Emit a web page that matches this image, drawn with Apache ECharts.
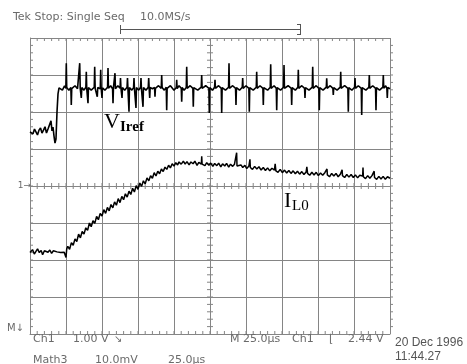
<!DOCTYPE html>
<html>
<head>
<meta charset="utf-8">
<script src="https://cdn.jsdelivr.net/npm/echarts@6/dist/echarts.min.js"></script>
<style>
html,body{margin:0;padding:0;background:#fff;}
#c{width:467px;height:364px;}
</style>
</head>
<body>
<div id="c"></div>
<script>
// Axes in scope divisions: x -5..5 (25.0 us/div), y -4..4
var xDivs = [-5, 5];
var yDivs = [-4, 4];
var minorStep = 0.2; // graticule minor tick spacing (divisions)

// V_Iref trace [x div, y div]
var vIrefPre = [[-5.000,1.46],[-4.958,1.51],[-4.917,1.41],[-4.875,1.54],[-4.833,1.49],[-4.792,1.38],[-4.750,1.51],[-4.708,1.57],[-4.667,1.43],[-4.625,1.51],[-4.583,1.60],[-4.542,1.43],[-4.500,1.54],[-4.458,1.49],[-4.417,1.76],[-4.389,1.49],[-4.361,1.59],[-4.333,1.35],[-4.306,1.16],[-4.278,1.27],[-4.250,2.00],[-4.222,2.49],[-4.194,2.65]];
var vIrefPost = [[-4.10,2.59],[-4.04,2.71],[-4.004,2.64],[-3.992,3.32],[-3.980,2.66],[-3.92,2.59],[-3.865,2.66],[-3.853,2.19],[-3.841,2.63],[-3.75,2.71],[-3.68,2.63],[-3.631,2.65],[-3.619,3.32],[-3.605,2.64],[-3.575,2.38],[-3.56,2.66],[-3.50,2.59],[-3.448,2.67],[-3.436,3.09],[-3.424,2.64],[-3.389,2.24],[-3.377,2.66],[-3.30,2.59],[-3.215,2.67],[-3.203,3.22],[-3.19,2.64],[-3.131,2.41],[-3.118,2.66],[-3.048,2.63],[-3.036,3.14],[-3.024,2.66],[-3.000,2.38],[-2.988,2.65],[-2.92,2.59],[-2.845,2.67],[-2.833,3.19],[-2.821,2.64],[-2.76,2.71],[-2.706,2.63],[-2.694,2.24],[-2.682,2.66],[-2.651,2.65],[-2.639,3.05],[-2.627,2.63],[-2.56,2.71],[-2.498,2.64],[-2.486,2.92],[-2.474,2.65],[-2.444,2.38],[-2.432,2.66],[-2.37,2.59],[-2.304,2.67],[-2.292,2.92],[-2.280,2.64],[-2.250,2.01],[-2.238,2.66],[-2.17,2.59],[-2.123,2.66],[-2.111,2.92],[-2.099,2.64],[-2.056,2.11],[-2.044,2.66],[-1.98,2.59],[-1.929,2.67],[-1.917,2.92],[-1.905,2.64],[-1.861,2.14],[-1.849,2.66],[-1.78,2.59],[-1.715,2.67],[-1.703,2.92],[-1.690,2.64],[-1.675,2.38],[-1.662,2.66],[-1.60,2.63],[-1.540,2.66],[-1.528,2.41],[-1.516,2.64],[-1.43,2.71],[-1.354,2.64],[-1.342,3.00],[-1.330,2.66],[-1.27,2.59],[-1.215,2.67],[-1.203,2.05],[-1.191,2.64],[-1.10,2.71],[-1.00,2.59],[-0.937,2.66],[-0.925,2.87],[-0.913,2.63],[-0.86,2.71],[-0.798,2.64],[-0.786,2.28],[-0.774,2.66],[-0.72,2.59],[-0.659,2.66],[-0.647,3.22],[-0.635,2.64],[-0.55,2.71],[-0.476,2.64],[-0.464,2.14],[-0.452,2.66],[-0.34,2.59],[-0.243,2.67],[-0.231,3.00],[-0.219,2.64],[-0.12,2.71],[-0.031,2.64],[-0.019,1.97],[-0.007,2.66],[0.07,2.59],[0.127,2.67],[0.139,2.87],[0.151,2.64],[0.24,2.71],[0.313,2.64],[0.325,1.97],[0.337,2.66],[0.43,2.59],[0.516,2.67],[0.528,3.32],[0.540,2.64],[0.63,2.71],[0.710,2.64],[0.722,2.19],[0.734,2.66],[0.82,2.59],[0.896,2.67],[0.908,2.92],[0.920,2.64],[1.00,2.71],[1.080,2.64],[1.092,2.01],[1.104,2.66],[1.20,2.59],[1.285,2.67],[1.297,3.09],[1.309,2.64],[1.39,2.71],[1.469,2.64],[1.481,2.19],[1.493,2.66],[1.60,2.59],[1.674,2.67],[1.686,3.29],[1.698,2.64],[1.78,2.71],[1.841,2.64],[1.853,2.05],[1.865,2.66],[1.96,2.59],[2.044,2.67],[2.056,3.27],[2.068,2.64],[2.17,2.71],[2.257,2.64],[2.269,2.19],[2.281,2.66],[2.37,2.59],[2.441,2.67],[2.453,3.14],[2.465,2.64],[2.55,2.71],[2.627,2.64],[2.639,2.38],[2.651,2.66],[2.75,2.59],[2.841,2.67],[2.853,3.22],[2.865,2.64],[2.95,2.71],[3.024,2.64],[3.036,2.05],[3.048,2.66],[3.14,2.59],[3.230,2.67],[3.242,2.91],[3.254,2.64],[3.34,2.71],[3.413,2.64],[3.425,2.46],[3.437,2.66],[3.53,2.59],[3.619,2.67],[3.631,3.09],[3.643,2.64],[3.74,2.71],[3.830,2.64],[3.842,2.01],[3.854,2.66],[3.94,2.59],[4.016,2.67],[4.028,2.92],[4.040,2.64],[4.12,2.71],[4.202,2.64],[4.214,1.92],[4.226,2.66],[4.33,2.59],[4.413,2.67],[4.425,3.00],[4.437,2.64],[4.52,2.71],[4.599,2.64],[4.611,2.05],[4.623,2.66],[4.71,2.59],[4.802,2.67],[4.814,3.00],[4.826,2.64],[4.88,2.71],[4.913,2.64],[4.925,2.38],[4.937,2.66],[5.000,2.63]];

// I_L0 trace [x div, y div]
var iL0Flat = [[-5.00,-1.80],[-4.93,-1.72],[-4.88,-1.84],[-4.83,-1.76],[-4.79,-1.70],[-4.74,-1.80],[-4.69,-1.74],[-4.65,-1.86],[-4.60,-1.75],[-4.55,-1.70],[-4.50,-1.79],[-4.45,-1.73],[-4.40,-1.82],[-4.35,-1.75],[-4.30,-1.70],[-4.25,-1.78],[-4.20,-1.74],[-4.15,-1.80],[-4.10,-1.76],[-4.05,-1.79],[-4.02,-1.74],[-4.00,-1.93],[-3.98,-1.70]];
var iL0Ramp = [[-3.95,-1.63],[-3.90,-1.71],[-3.85,-1.53],[-3.80,-1.60],[-3.75,-1.43],[-3.70,-1.50],[-3.65,-1.30],[-3.60,-1.40],[-3.55,-1.23],[-3.50,-1.30],[-3.45,-1.13],[-3.40,-1.20],[-3.35,-1.00],[-3.30,-1.10],[-3.25,-0.94],[-3.20,-1.01],[-3.15,-0.82],[-3.10,-0.91],[-3.05,-0.74],[-3.00,-0.81],[-2.95,-0.64],[-2.90,-0.74],[-2.85,-0.58],[-2.80,-0.67],[-2.75,-0.50],[-2.70,-0.59],[-2.65,-0.43],[-2.60,-0.52],[-2.55,-0.34],[-2.50,-0.45],[-2.45,-0.28],[-2.40,-0.37],[-2.35,-0.21],[-2.30,-0.30],[-2.25,-0.14],[-2.20,-0.23],[-2.15,-0.06],[-2.10,-0.16],[-2.05,0.01],[-2.00,-0.09],[-1.95,0.08],[-1.90,-0.01],[-1.85,0.14],[-1.80,0.06],[-1.75,0.22],[-1.70,0.14],[-1.65,0.28],[-1.60,0.21],[-1.55,0.36],[-1.50,0.27],[-1.45,0.40],[-1.40,0.33],[-1.35,0.46],[-1.30,0.39],[-1.25,0.51],[-1.20,0.45],[-1.15,0.56],[-1.10,0.49],[-1.05,0.60],[-1.00,0.54],[-0.95,0.63],[-0.90,0.57]];
var iL0Decay = [[-0.86,0.65],[-0.80,0.59],[-0.74,0.67],[-0.69,0.59],[-0.64,0.66],[-0.58,0.57],[-0.53,0.65],[-0.47,0.60],[-0.42,0.67],[-0.36,0.56],[-0.31,0.64],[-0.24,0.59],[-0.23,0.80],[-0.22,0.59],[-0.14,0.55],[-0.09,0.63],[-0.03,0.56],[0.02,0.62],[0.08,0.53],[0.13,0.61],[0.19,0.55],[0.24,0.62],[0.30,0.52],[0.35,0.60],[0.41,0.54],[0.46,0.61],[0.52,0.51],[0.57,0.59],[0.63,0.53],[0.68,0.59],[0.73,0.54],[0.74,0.90],[0.75,0.54],[0.80,0.49],[0.86,0.57],[0.91,0.50],[0.97,0.56],[1.02,0.47],[1.08,0.54],[1.10,0.52],[1.11,0.72],[1.12,0.50],[1.18,0.45],[1.24,0.53],[1.30,0.46],[1.36,0.52],[1.42,0.43],[1.48,0.50],[1.54,0.42],[1.60,0.49],[1.66,0.41],[1.72,0.48],[1.79,0.43],[1.81,0.60],[1.83,0.41],[1.89,0.37],[1.95,0.45],[2.01,0.36],[2.07,0.43],[2.13,0.35],[2.19,0.42],[2.25,0.34],[2.31,0.41],[2.37,0.33],[2.43,0.40],[2.49,0.32],[2.55,0.39],[2.61,0.31],[2.67,0.38],[2.69,0.52],[2.71,0.34],[2.77,0.29],[2.83,0.37],[2.89,0.30],[2.95,0.37],[3.01,0.28],[3.07,0.35],[3.13,0.29],[3.19,0.36],[3.24,0.33],[3.25,0.46],[3.26,0.30],[3.32,0.25],[3.38,0.34],[3.44,0.27],[3.50,0.34],[3.56,0.25],[3.62,0.32],[3.66,0.30],[3.67,0.44],[3.68,0.28],[3.74,0.23],[3.80,0.31],[3.86,0.24],[3.92,0.31],[3.98,0.23],[4.04,0.30],[4.10,0.22],[4.16,0.29],[4.24,0.27],[4.25,0.50],[4.26,0.25],[4.32,0.20],[4.38,0.28],[4.44,0.21],[4.50,0.28],[4.55,0.25],[4.56,0.40],[4.57,0.23],[4.63,0.18],[4.69,0.26],[4.75,0.19],[4.81,0.26],[4.87,0.18],[4.93,0.25],[5.00,0.21]];

var topTexts = ['Tek Stop: Single Seq', '10.0MS/s'];
var bottomRow1 = ['Ch1', '1.00 V', '\u2198', 'M 25.0\u00B5s', 'Ch1', '\u230A', '2.44 V'];
var bottomRow2 = ['Math3', '10.0mV', '25.0\u00B5s'];
var dateTexts = ['20 Dec 1996', '11:44.27'];

var GRID = '#858585';
var TXT = '#6a6a6a';

// graticule minor tick positions along an axis range (decoration)
function minorPositions(r) {
  var out = [];
  var n = Math.round((r[1] - r[0]) / minorStep);
  for (var i = 1; i < n; i++) out.push(+(r[0] + i * minorStep).toFixed(2));
  return out;
}
var xMinor = minorPositions(xDivs);
var yMinor = minorPositions(yDivs);
function tickSeries(points, size, offset) {
  return { type: 'scatter', silent: true, clip: false, symbol: 'rect', symbolSize: size, symbolOffset: offset,
    itemStyle: { color: GRID, opacity: 1 }, emphasis: { disabled: true }, z: 3, data: points };
}
var tickMarks = [
  tickSeries(xMinor.map(function (v) { return [v, yDivs[1]]; }), [1, 3], [0, 1.5]),   // top border, inward
  tickSeries(xMinor.map(function (v) { return [v, yDivs[0]]; }), [1, 3], [0, -1.5]),  // bottom border, inward
  tickSeries(xMinor.map(function (v) { return [v, 0]; }), [1, 6], [0, 0]),             // centre horizontal
  tickSeries(yMinor.map(function (v) { return [xDivs[0], v]; }), [3, 1], [1.5, 0]),   // left border, inward
  tickSeries(yMinor.map(function (v) { return [0, v]; }), [6, 1], [0, 0]),             // centre vertical
  tickSeries(yMinor.map(function (v) { return [xDivs[1], v]; }), [3, 1], [1.5, 0])    // right border
];

// text as title components
function t(text, left, cy, size, family, color, weight, right) {
  var lh = Math.round(size * 1.25);
  var o = { text: text, top: cy - lh / 2, padding: 0, z: 20,
    textStyle: { fontSize: size, fontFamily: family, color: color || TXT, fontWeight: weight || 'normal', lineHeight: lh } };
  if (right != null) o.right = right; else o.left = left;
  return o;
}
var DV = 'DejaVu Sans', LS = 'Liberation Sans', SERIF = 'Liberation Serif';
var titles = [
  t(topTexts[0], 13, 17, 11, DV),
  t(topTexts[1], 140, 17, 11, DV),
  t(bottomRow1[0], 33, 339, 11, DV),
  t(bottomRow1[1], 73, 339, 11, DV),
  t(bottomRow1[2], 114, 339, 10, DV),
  t(bottomRow1[3], 230, 339, 11, DV),
  t(bottomRow1[4], 292, 339, 11, DV),
  t(bottomRow1[5], 329, 339, 11, DV),
  t(bottomRow1[6], 348, 339, 11, DV),
  t(bottomRow2[0], 33, 360, 11, DV),
  t(bottomRow2[1], 95, 360, 11, DV),
  t(bottomRow2[2], 168, 360, 11, DV),
  t(dateTexts[0], 395, 343, 12, LS, '#555'),
  t(dateTexts[1], 395, 357, 12, LS, '#555'),
  t('M\u2193', 0, 328, 10, DV, TXT, 'normal', 443),
  t('1\u2192', 0, 186, 9, DV, TXT, 'normal', 436),
  t('V', 104, 122.5, 22, SERIF, '#000'),
  t('Iref', 120, 127, 15, SERIF, '#000', 'bold'),
  t('I', 284, 201, 22, SERIF, '#000'),
  t('L0', 292, 206, 15, SERIF, '#000')
];

// trigger-window bracket above the graticule (pixel-placed decoration)
var bracket = [
  [{ x: 120, y: 29.5 }, { x: 300, y: 29.5 }],
  [{ x: 120.5, y: 25 }, { x: 120.5, y: 34 }],
  [{ x: 300.5, y: 24 }, { x: 300.5, y: 35 }],
  [{ x: 297, y: 24.5 }, { x: 300.5, y: 24.5 }],
  [{ x: 297, y: 34.5 }, { x: 300.5, y: 34.5 }]
];

var chart = echarts.init(document.getElementById('c'), null, { renderer: 'canvas' });
chart.setOption({
  animation: false,
  title: titles,
  grid: { left: 30, top: 38, width: 360, height: 296 },
  xAxis: {
    type: 'value', min: xDivs[0], max: xDivs[1], interval: 1,
    axisLine: { show: true, onZero: false, lineStyle: { color: GRID, width: 1 } },
    axisTick: { show: false }, axisLabel: { show: false },
    splitLine: { show: true, lineStyle: { color: GRID, width: 1 } }
  },
  yAxis: {
    type: 'value', min: yDivs[0], max: yDivs[1], interval: 1,
    axisLine: { show: true, onZero: false, lineStyle: { color: GRID, width: 1 } },
    axisTick: { show: false }, axisLabel: { show: false },
    splitLine: { show: true, lineStyle: { color: GRID, width: 1 } }
  },
  series: tickMarks.concat([
    { type: 'line', name: 'V_Iref', symbol: 'none', showSymbol: false, clip: false,
      lineStyle: { color: '#000', width: 1.6 }, data: vIrefPre.concat(vIrefPost), z: 10,
      markLine: { silent: true, animation: false, symbol: ['none', 'none'], label: { show: false },
        lineStyle: { color: '#555', width: 1, type: 'solid' }, emphasis: { disabled: true }, data: bracket } },
    { type: 'line', name: 'I_L0', symbol: 'none', showSymbol: false,
      lineStyle: { color: '#000', width: 1.5 }, data: iL0Flat.concat(iL0Ramp, iL0Decay), z: 10 }
  ])
});
</script>
</body>
</html>
